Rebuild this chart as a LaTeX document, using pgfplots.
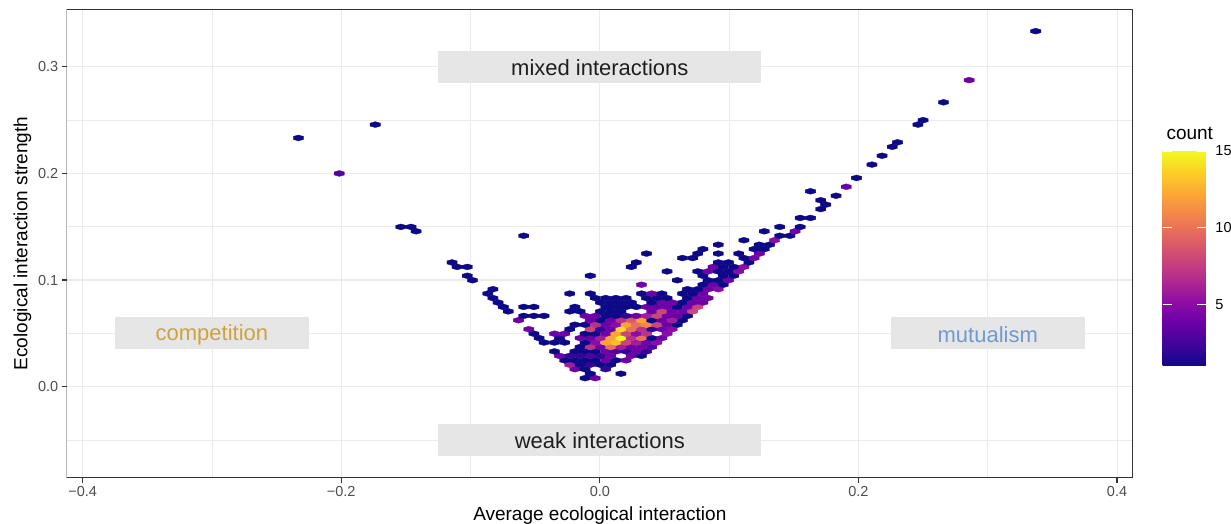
\documentclass[border=0pt]{standalone}
\usepackage{pgfplots}
\pgfplotsset{compat=1.18}
\usepackage{pgfplotstable}
\usepackage{fontspec}
\setmainfont{Liberation Sans}
\usetikzlibrary{calc}

\definecolor{gridgray}{HTML}{EBEBEB}
\definecolor{framegray}{HTML}{333333}
\definecolor{ticktext}{HTML}{4D4D4D}
\definecolor{boxgray}{HTML}{E6E6E6}
\definecolor{compcol}{HTML}{D1A23B}
\definecolor{mutcol}{HTML}{6E9BD3}

\pgfplotsset{
  colormap={plasma}{rgb255=(13,8,135) rgb255=(65,4,157) rgb255=(106,0,168)
    rgb255=(143,13,164) rgb255=(177,42,144) rgb255=(204,71,120)
    rgb255=(225,100,98) rgb255=(242,132,75) rgb255=(252,166,54)
    rgb255=(252,206,37) rgb255=(240,249,33)}
}

% flat hexagon cell, 10.25bp wide and 5.9bp tall
\pgfdeclareplotmark{hexcell}{%
  \pgfpathmoveto{\pgfqpoint{5.125bp}{1.477bp}}%
  \pgfpathlineto{\pgfqpoint{0bp}{2.954bp}}%
  \pgfpathlineto{\pgfqpoint{-5.125bp}{1.477bp}}%
  \pgfpathlineto{\pgfqpoint{-5.125bp}{-1.477bp}}%
  \pgfpathlineto{\pgfqpoint{0bp}{-2.954bp}}%
  \pgfpathlineto{\pgfqpoint{5.125bp}{-1.477bp}}%
  \pgfpathclose
  \pgfusepathqfillstroke
}

% hexagon centres and number of pairs in each cell
\pgfplotstableread{
x y count
-0.0114 0.0080 1
-0.0035 0.0080 4
-0.0074 0.0122 1
0.0163 0.0122 1
-0.0193 0.0164 4
-0.0114 0.0164 1
0.0045 0.0164 2
-0.0233 0.0206 6
-0.0153 0.0206 1
-0.0074 0.0206 2
0.0005 0.0206 1
0.0084 0.0206 1
-0.0272 0.0247 1
-0.0193 0.0247 1
-0.0114 0.0247 1
-0.0035 0.0247 1
0.0045 0.0247 4
0.0124 0.0247 1
0.0203 0.0247 4
-0.0312 0.0289 4
-0.0233 0.0289 2
-0.0153 0.0289 2
-0.0074 0.0289 3
0.0005 0.0289 2
0.0084 0.0289 4
0.0243 0.0289 4
0.0322 0.0289 1
-0.0351 0.0331 1
-0.0193 0.0331 1
-0.0114 0.0331 1
-0.0035 0.0331 1
0.0045 0.0331 4
0.0124 0.0331 3
0.0203 0.0331 2
0.0282 0.0331 4
0.0361 0.0331 2
-0.0153 0.0372 1
-0.0074 0.0372 7
0.0005 0.0372 4
0.0084 0.0372 10
0.0163 0.0372 6
0.0243 0.0372 4
0.0322 0.0372 4
0.0401 0.0372 3
-0.0431 0.0414 1
-0.0351 0.0414 1
-0.0272 0.0414 1
-0.0114 0.0414 1
-0.0035 0.0414 5
0.0045 0.0414 12
0.0124 0.0414 13
0.0203 0.0414 8
0.0282 0.0414 6
0.0361 0.0414 4
0.0441 0.0414 5
-0.0470 0.0456 1
-0.0312 0.0456 1
-0.0153 0.0456 4
-0.0074 0.0456 4
0.0005 0.0456 6
0.0084 0.0456 12
0.0163 0.0456 15
0.0243 0.0456 7
0.0322 0.0456 10
0.0401 0.0456 1
0.0480 0.0456 4
-0.0510 0.0497 1
-0.0351 0.0497 4
-0.0272 0.0497 4
-0.0114 0.0497 1
-0.0035 0.0497 1
0.0045 0.0497 4
0.0124 0.0497 12
0.0203 0.0497 8
0.0282 0.0497 5
0.0361 0.0497 7
0.0520 0.0497 5
-0.0549 0.0539 4
-0.0233 0.0539 1
-0.0074 0.0539 8
0.0005 0.0539 2
0.0084 0.0539 4
0.0163 0.0539 14
0.0243 0.0539 10
0.0322 0.0539 7
0.0401 0.0539 2
0.0480 0.0539 4
0.0559 0.0539 5
-0.0193 0.0581 1
-0.0114 0.0581 1
-0.0035 0.0581 7
0.0045 0.0581 4
0.0124 0.0581 5
0.0203 0.0581 12
0.0282 0.0581 10
0.0361 0.0581 11
0.0441 0.0581 8
0.0520 0.0581 4
0.0599 0.0581 1
-0.0629 0.0623 4
-0.0074 0.0623 4
0.0005 0.0623 1
0.0084 0.0623 4
0.0163 0.0623 7
0.0243 0.0623 9
0.0322 0.0623 12
0.0401 0.0623 1
0.0480 0.0623 4
0.0559 0.0623 6
0.0639 0.0623 1
-0.0589 0.0664 1
-0.0510 0.0664 1
-0.0431 0.0664 1
-0.0114 0.0664 4
-0.0035 0.0664 4
0.0045 0.0664 1
0.0124 0.0664 1
0.0203 0.0664 2
0.0282 0.0664 4
0.0361 0.0664 6
0.0441 0.0664 8
0.0520 0.0664 4
0.0599 0.0664 4
0.0678 0.0664 1
-0.0708 0.0706 1
-0.0233 0.0706 1
-0.0153 0.0706 1
0.0005 0.0706 1
0.0084 0.0706 1
0.0163 0.0706 1
0.0401 0.0706 4
0.0480 0.0706 8
0.0559 0.0706 4
0.0639 0.0706 4
0.0718 0.0706 8
-0.0747 0.0748 1
-0.0589 0.0748 1
-0.0510 0.0748 1
-0.0193 0.0748 1
0.0045 0.0748 1
0.0124 0.0748 1
0.0203 0.0748 1
0.0282 0.0748 1
0.0361 0.0748 4
0.0441 0.0748 4
0.0520 0.0748 4
0.0599 0.0748 1
0.0678 0.0748 4
0.0757 0.0748 8
-0.0787 0.0789 1
0.0005 0.0789 1
0.0084 0.0789 1
0.0163 0.0789 1
0.0243 0.0789 1
0.0401 0.0789 1
0.0480 0.0789 4
0.0559 0.0789 4
0.0639 0.0789 1
0.0718 0.0789 4
0.0797 0.0789 4
-0.0827 0.0831 1
-0.0035 0.0831 1
0.0045 0.0831 1
0.0124 0.0831 1
0.0203 0.0831 1
0.0361 0.0831 1
0.0441 0.0831 1
0.0520 0.0831 1
0.0678 0.0831 1
0.0757 0.0831 4
0.0837 0.0831 4
-0.0866 0.0873 1
-0.0233 0.0873 1
-0.0074 0.0873 1
0.0322 0.0873 1
0.0401 0.0873 4
0.0480 0.0873 1
0.0639 0.0873 1
0.0718 0.0873 1
0.0797 0.0873 4
-0.0827 0.0914 1
0.0678 0.0914 1
0.0757 0.0914 1
0.0837 0.0914 4
0.0916 0.0914 5
0.0322 0.0956 4
0.0797 0.0956 1
0.0876 0.0956 4
0.0955 0.0956 1
-0.0985 0.0998 1
0.0599 0.0998 1
0.0837 0.0998 1
0.0916 0.0998 1
0.0995 0.0998 4
-0.1025 0.1040 1
-0.0074 0.1040 1
0.0797 0.1040 1
0.0955 0.1040 1
0.1035 0.1040 1
0.0520 0.1081 1
0.0757 0.1081 1
0.0837 0.1081 4
0.0916 0.1081 1
0.0995 0.1081 1
0.1074 0.1081 5
-0.1104 0.1123 1
-0.1025 0.1123 1
0.0243 0.1123 1
0.0876 0.1123 4
0.0955 0.1123 1
0.1035 0.1123 1
0.1114 0.1123 5
-0.1143 0.1165 1
0.0282 0.1165 1
0.0916 0.1165 1
0.0995 0.1165 1
0.1153 0.1165 1
0.0639 0.1206 1
0.0718 0.1206 1
0.1114 0.1206 1
0.1193 0.1206 4
0.0361 0.1248 1
0.0757 0.1248 1
0.0916 0.1248 1
0.1074 0.1248 1
0.1233 0.1248 4
0.0797 0.1290 1
0.1193 0.1290 1
0.1272 0.1290 1
0.0916 0.1331 1
0.1233 0.1331 1
0.1312 0.1331 1
0.1114 0.1373 1
0.1351 0.1373 5
-0.0589 0.1415 1
0.1391 0.1415 1
0.1470 0.1415 1
-0.1421 0.1457 1
0.1272 0.1457 1
0.1510 0.1457 4
-0.1539 0.1498 1
-0.1460 0.1498 1
0.1391 0.1498 1
0.1549 0.1498 1
0.1549 0.1582 1
0.1629 0.1582 1
0.1708 0.1665 1
0.1747 0.1707 1
0.1708 0.1748 1
0.1827 0.1790 1
0.1629 0.1832 1
0.1906 0.1874 4
0.1985 0.1957 1
-0.2015 0.1999 3
0.2104 0.2082 1
0.2183 0.2165 1
0.2262 0.2249 1
0.2302 0.2291 1
-0.2331 0.2332 1
-0.1737 0.2457 1
0.2460 0.2457 1
0.2500 0.2499 1
0.2658 0.2666 1
0.2856 0.2874 4
0.3371 0.3333 1
}\hexcounts

\begin{document}
\begin{tikzpicture}
\useasboundingbox (-66.7bp,-46.3bp) rectangle (1164.3bp,477.7bp);
\begin{axis}[
  at={(0,0)}, anchor=south west,
  scale only axis, width=1066.3bp, height=468.4bp,
  xmin=-0.4123, xmax=0.4123, ymin=-0.0853, ymax=0.3538,
  axis line style={draw=none},
  tick style={draw=framegray, line width=1.3bp},
  tick align=outside, xtick pos=bottom, ytick pos=left,
  major tick length=5bp, minor tick length=0bp,
  xtick={-0.4,-0.2,0,0.2,0.4},
  xticklabels={−0.4,−0.2,0.0,0.2,0.4},
  ytick={0,0.1,0.2,0.3},
  yticklabels={0.0,0.1,0.2,0.3},
  minor xtick={-0.3,-0.1,0.1,0.3},
  minor ytick={-0.05,0.05,0.15,0.25},
  grid=both,
  major grid style={draw=gridgray, line width=1.1bp},
  minor grid style={draw=gridgray, line width=0.55bp},
  ticklabel style={font=\fontsize{14.5bp}{17bp}\selectfont, text=ticktext},
  xlabel={Average ecological interaction},
  ylabel={Ecological interaction strength},
  label style={font=\fontsize{19bp}{22bp}\selectfont},
  xlabel style={at={(axis description cs:0.5,-0.0924)}, anchor=base},
  ylabel style={at={(axis description cs:-0.0368,0.5)}, anchor=base},
  colormap name=plasma,
  point meta min=1, point meta max=15,
  colorbar,
  colorbar shift/.style={},
  colorbar/width=43.3bp,
  colorbar style={
    at={($(parent axis.south east)+(29.7bp,111.7bp)$)}, anchor=south west,
    scale only axis, width=43.3bp, height=215bp,
    ytick={5,10,15}, yticklabels={5,10,15},
    ytick pos=both, yticklabel pos=right, ytick align=inside,
    major tick length=9bp,
    tick style={draw=white, line width=1.2bp},
    axis line style={draw=none},
    yticklabel style={font=\fontsize{14.5bp}{17bp}\selectfont, text=black, xshift=6bp},
  },
]
  % labelled regions of the plane
  \fill[boxgray] (axis cs:-0.125,0.285) rectangle (axis cs:0.125,0.315);
  \fill[boxgray] (axis cs:-0.125,-0.065) rectangle (axis cs:0.125,-0.035);
  \fill[boxgray] (axis cs:-0.375,0.035) rectangle (axis cs:-0.225,0.065);
  \fill[boxgray] (axis cs:0.225,0.035) rectangle (axis cs:0.375,0.065);
  \node[font=\fontsize{22bp}{26bp}\selectfont, text=black!88] at (axis cs:0,0.299) {mixed interactions};
  \node[font=\fontsize{22bp}{26bp}\selectfont, text=black!88] at (axis cs:0,-0.051) {weak interactions};
  \node[font=\fontsize{22bp}{26bp}\selectfont, text=compcol] at (axis cs:-0.3,0.049) {competition};
  \node[font=\fontsize{22bp}{26bp}\selectfont, text=mutcol] at (axis cs:0.3,0.049) {mutualism};

  \addplot[scatter, only marks, mark=hexcell, scatter src=explicit,
    mark options={line width=0.3bp},
    scatter/use mapped color={draw=mapped color, fill=mapped color}]
    table[x=x, y=y, meta=count] {\hexcounts};

  % panel border
  \draw[framegray, line width=1.3bp] (rel axis cs:0,0) rectangle (rel axis cs:1,1);
\end{axis}
\node[anchor=base west, font=\fontsize{19bp}{22bp}\selectfont] at (1096.3bp,337.7bp) {count};
\end{tikzpicture}
\end{document}
